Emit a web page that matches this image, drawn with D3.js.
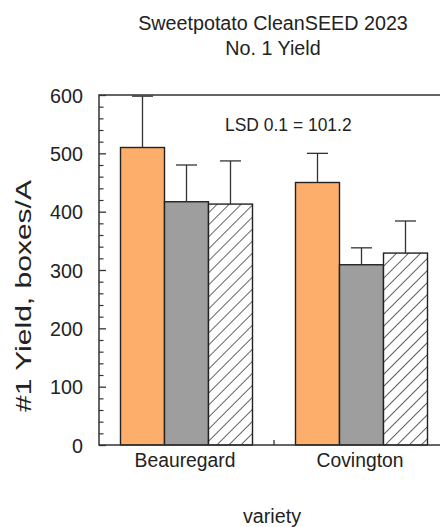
<!DOCTYPE html>
<html>
<head>
<meta charset="utf-8">
<script src="https://cdn.jsdelivr.net/npm/d3@7"></script>
<style>
  html, body { margin: 0; padding: 0; background: #fff; }
  svg { display: block; }
  text { font-family: "Liberation Sans", Arial, sans-serif; fill: #222; }
</style>
</head>
<body>
<div id="chart"></div>
<script>
// chart values
const categories = ['Beauregard', 'Covington'];
const treatments = ['trt1', 'trt2', 'trt3'];
const trt1Mean = [510, 450];
const trt2Mean = [417, 309];
const trt3Mean = [413, 329];
const trt1Err = [88, 50];
const trt2Err = [63, 29];
const trt3Err = [74, 55];
const yTicks = [0, 100, 200, 300, 400, 500, 600];

const W = 440, H = 527;
const margin = { left: 99, top: 95, right: 449, bottom: 445 };

const rows = [];
categories.forEach((c, i) => {
  rows.push({ cat: c, trt: 'trt1', mean: trt1Mean[i], err: trt1Err[i] });
  rows.push({ cat: c, trt: 'trt2', mean: trt2Mean[i], err: trt2Err[i] });
  rows.push({ cat: c, trt: 'trt3', mean: trt3Mean[i], err: trt3Err[i] });
});

const svg = d3.select('#chart').append('svg')
  .attr('width', W)
  .attr('height', H);

// hatch for third bar
const defs = svg.append('defs');
defs.append('pattern')
  .attr('id', 'hatch')
  .attr('patternUnits', 'userSpaceOnUse')
  .attr('width', 8.5)
  .attr('height', 8.5)
  .attr('patternTransform', 'rotate(45)')
  .call(p => {
    p.append('rect').attr('width', 8.5).attr('height', 8.5).attr('fill', '#fff');
    p.append('line')
      .attr('x1', 0).attr('y1', 0).attr('x2', 0).attr('y2', 8.5)
      .attr('stroke', '#222').attr('stroke-width', 1.4);
  });

const fills = { trt1: '#fdae6b', trt2: '#9e9e9e', trt3: 'url(#hatch)' };

const y = d3.scaleLinear().domain([0, 600]).range([margin.bottom, margin.top]);
const x = d3.scaleBand().domain(categories).range([margin.left, margin.right]);
const groupW = 132;
const xSub = d3.scaleBand().domain(treatments).range([0, groupW]);
const barX = d => x(d.cat) + (x.bandwidth() - groupW) / 2 + xSub(d.trt);

// text helper, the original text is a bit narrow
function label(txt, px, py, size, anchor, sx, rot) {
  return svg.append('text')
    .attr('transform', `translate(${px},${py})` + (rot ? ` rotate(${rot})` : '') + ` scale(${sx},1)`)
    .attr('text-anchor', anchor)
    .attr('font-size', size)
    .text(txt);
}

label('Sweetpotato CleanSEED 2023', 273, 30, 21, 'middle', 0.94);
label('No. 1 Yield', 273, 55, 21, 'middle', 0.94);

// bars
svg.append('g').selectAll('rect')
  .data(rows)
  .join('rect')
  .attr('x', barX)
  .attr('y', d => y(d.mean))
  .attr('width', xSub.bandwidth())
  .attr('height', d => y(0) - y(d.mean))
  .attr('fill', d => fills[d.trt])
  .attr('stroke', '#222')
  .attr('stroke-width', 1.4);

// error bars (upper only)
const eb = svg.append('g').attr('stroke', '#333').attr('stroke-width', 1.3);
eb.selectAll('line.v')
  .data(rows)
  .join('line')
  .attr('class', 'v')
  .attr('x1', d => barX(d) + xSub.bandwidth() / 2)
  .attr('x2', d => barX(d) + xSub.bandwidth() / 2)
  .attr('y1', d => y(d.mean))
  .attr('y2', d => y(d.mean + d.err));
eb.selectAll('line.cap')
  .data(rows)
  .join('line')
  .attr('class', 'cap')
  .attr('x1', d => barX(d) + xSub.bandwidth() / 2 - 10.5)
  .attr('x2', d => barX(d) + xSub.bandwidth() / 2 + 10.5)
  .attr('y1', d => y(d.mean + d.err))
  .attr('y2', d => y(d.mean + d.err));

// frame
const frame = svg.append('g').attr('stroke', '#333').attr('stroke-width', 1.5).attr('fill', 'none');
frame.append('rect')
  .attr('x', margin.left)
  .attr('y', margin.top)
  .attr('width', margin.right - margin.left)
  .attr('height', margin.bottom - margin.top);

// y axis, ticks pointing inward
const yAxis = d3.axisRight(y)
  .tickValues(yTicks)
  .tickSize(7)
  .tickFormat('');
svg.append('g')
  .attr('transform', `translate(${margin.left},0)`)
  .call(yAxis)
  .call(g => g.select('.domain').remove())
  .call(g => g.selectAll('line').attr('stroke', '#333').attr('stroke-width', 1.3));

const yMinor = d3.axisRight(y)
  .tickValues(d3.range(20, 600, 20).filter(v => v % 100 !== 0))
  .tickSize(4.5)
  .tickFormat('');
svg.append('g')
  .attr('transform', `translate(${margin.left},0)`)
  .call(yMinor)
  .call(g => g.select('.domain').remove())
  .call(g => g.selectAll('line').attr('stroke', '#333').attr('stroke-width', 1.2));

yTicks.forEach(v => label(String(v), 83, y(v) + 7.5, 21, 'end', 0.94));

// x boundary tick between groups
svg.append('line')
  .attr('x1', x('Covington')).attr('x2', x('Covington'))
  .attr('y1', margin.bottom).attr('y2', margin.bottom - 5)
  .attr('stroke', '#333').attr('stroke-width', 1.3);

categories.forEach(c => label(c, x(c) + x.bandwidth() / 2 - 1.5, 467, 21, 'middle', 0.92));

label('variety', 272, 523, 21, 'middle', 0.94);

svg.append('text')
  .attr('transform', `translate(31,296) rotate(-90)`)
  .attr('text-anchor', 'middle')
  .attr('font-size', 22)
  .attr('textLength', 232)
  .attr('lengthAdjust', 'spacingAndGlyphs')
  .text('#1 Yield, boxes/A');

label('LSD 0.1 = 101.2', 225, 131, 18, 'start', 0.97);
</script>
</body>
</html>
